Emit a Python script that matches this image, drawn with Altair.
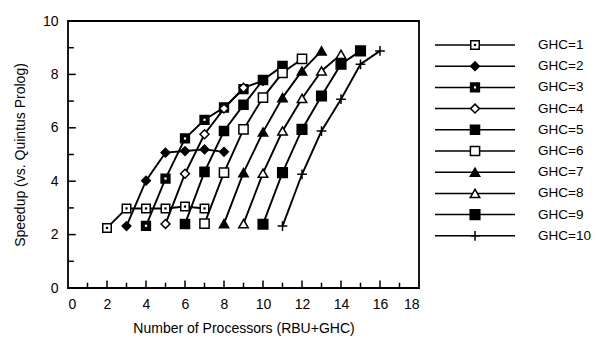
import altair as alt
import pandas as pd

# ---- data ----
ghc_labels = [f"GHC={k}" for k in range(1, 11)]
rbu = [1, 2, 3, 4, 5, 6]
s1 = [2.25, 2.98, 2.98, 2.98, 3.05, 2.98]
s2 = [2.32, 4.02, 5.07, 5.13, 5.19, 5.10]
s3 = [2.33, 4.10, 5.60, 6.30, 6.76, 7.45]
s4 = [2.40, 4.28, 5.76, 6.72, 7.50, 7.76]
s5 = [2.40, 4.35, 5.88, 6.86, 7.79, 8.31]
s6 = [2.41, 4.32, 5.94, 7.13, 8.06, 8.58]
s7 = [2.41, 4.32, 5.84, 7.13, 8.13, 8.88]
s8 = [2.41, 4.30, 5.88, 7.10, 8.13, 8.75]
s9 = [2.39, 4.32, 5.94, 7.19, 8.38, 8.88]
s10 = [2.32, 4.26, 5.88, 7.07, 8.38, 8.88]
series = [s1, s2, s3, s4, s5, s6, s7, s8, s9, s10]

x_ticks = list(range(1, 18))
y_ticks = list(range(1, 10))
x_labels = list(range(0, 19, 2))
y_labels = list(range(0, 11, 2))

rows = []
for k, (lab, vals) in enumerate(zip(ghc_labels, series), start=1):
    for r, v in zip(rbu, vals):
        rows.append({"g": lab, "p": r + k, "s": v})
df = pd.DataFrame(rows)

shapes = ["square", "diamond", "square", "diamond", "square", "square",
          "triangle-up", "triangle-up", "square", "M-1,0H1M0,-1V1"]
fills = ["white", "black", "black", "white", "black", "white",
         "black", "white", "black", "black"]
sizes = [72, 95, 80, 55, 80, 80, 80, 72, 80, 110]

FONT = "Liberation Sans"

shape_enc = alt.Shape("g:N", scale=alt.Scale(domain=ghc_labels, range=shapes), legend=None)
fill_enc = alt.Fill("g:N", scale=alt.Scale(domain=ghc_labels, range=fills), legend=None)
size_enc = alt.Size("g:N", scale=alt.Scale(domain=ghc_labels, range=sizes), legend=None)
dot_enc = alt.Color("g:N", scale=alt.Scale(domain=["GHC=1", "GHC=3"], range=["black", "white"]), legend=None)

xscale = alt.Scale(domain=[0, 18], nice=False, zero=False)
yscale = alt.Scale(domain=[0, 10], nice=False, zero=False)
xaxis = alt.Axis(values=x_labels, title="Number of Processors (RBU+GHC)",
                 labelPadding=9, titlePadding=10)
yaxis = alt.Axis(values=y_labels, title="Speedup (vs. Quintus Prolog)",
                 labelPadding=10, titlePadding=15)

def X(f):
    return alt.X(f, scale=xscale, axis=xaxis)

def Y(f):
    return alt.Y(f, scale=yscale, axis=yaxis)

base = alt.Chart(df)
lines = base.mark_line(color="black", strokeWidth=1.9).encode(
    x=X("p:Q"), y=Y("s:Q"), detail="g:N", order="p:Q")
pts = base.mark_point(stroke="black", strokeWidth=1.5, opacity=1, fillOpacity=1).encode(
    x=X("p:Q"), y=Y("s:Q"), shape=shape_enc, fill=fill_enc, size=size_enc)
dots = base.transform_filter(
    alt.FieldOneOfPredicate(field="g", oneOf=["GHC=1", "GHC=3"])
).mark_square(size=5, opacity=1).encode(x=X("p:Q"), y=Y("s:Q"), color=dot_enc)

xt = alt.Chart(pd.DataFrame({"t": x_ticks})).transform_calculate(
    e="datum.t % 2 == 0 ? 0.28 : 0.2", s0="0").mark_rule(color="black", strokeWidth=1.5).encode(
    x=X("t:Q"), y=Y("s0:Q"), y2="e:Q")
yt = alt.Chart(pd.DataFrame({"t": y_ticks})).transform_calculate(
    e="datum.t % 2 == 0 ? 0.4 : 0.3", s0="0").mark_rule(color="black", strokeWidth=1.5).encode(
    y=Y("t:Q"), x=X("s0:Q"), x2="e:Q")

main = alt.layer(xt, yt, lines, pts, dots).properties(
    width=351, height=267,
    view=alt.ViewBackground(stroke="black", strokeWidth=1.8))

# ---- legend panel ----
leg = pd.DataFrame({"g": ghc_labels, "i": list(range(10))})
lx = alt.Scale(domain=[0, 160], nice=False, zero=False)
ly = alt.Y("i:Q", scale=alt.Scale(domain=[-1.132, 11.462], reverse=True, nice=False, zero=False), axis=None)
lb = alt.Chart(leg)
lrule = lb.mark_rule(color="black", strokeWidth=1.5).encode(
    x=alt.XDatum(4, scale=lx, axis=None), x2=alt.X2Datum(84), y=ly)
lpts = lb.mark_point(stroke="black", strokeWidth=1.5, opacity=1, fillOpacity=1).encode(
    x=alt.XDatum(44, scale=lx, axis=None), y=ly, shape=shape_enc, fill=fill_enc, size=size_enc)
ldots = lb.transform_filter(
    alt.FieldOneOfPredicate(field="g", oneOf=["GHC=1", "GHC=3"])
).mark_square(size=5, opacity=1).encode(
    x=alt.XDatum(44, scale=lx, axis=None), y=ly, color=dot_enc)
ltext = lb.mark_text(align="left", baseline="middle", font=FONT, fontSize=13.5, color="black").encode(
    x=alt.XDatum(107, scale=lx, axis=None), y=ly, text="g:N")
legend = alt.layer(lrule, lpts, ldots, ltext).properties(
    width=160, height=267,
    view=alt.ViewBackground(stroke="transparent"))

chart = alt.hconcat(main, legend, spacing=10).properties(
    padding={"left": 4, "top": 5, "right": 0, "bottom": 0}
).resolve_scale(shape="independent", fill="independent", size="independent", color="independent"
).configure_view(stroke="transparent").configure_axis(
    labelFont=FONT, labelFontSize=14, labelColor="black",
    titleFont=FONT, titleFontSize=14, titleFontWeight="normal", titleColor="black",
    domain=False, ticks=False, tickSize=0, grid=False)

chart.save("out.html", embed_options={"renderer": "svg", "actions": False})
